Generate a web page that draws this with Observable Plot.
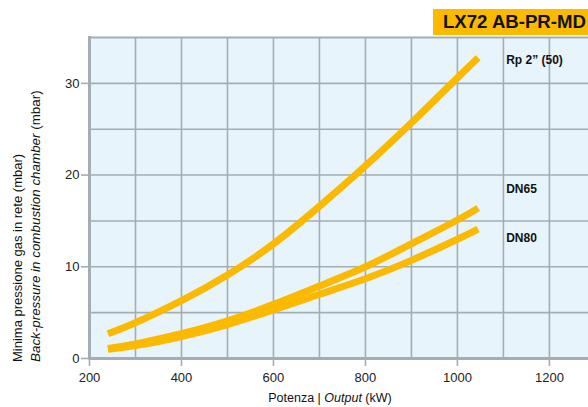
<!DOCTYPE html>
<html>
<head>
<meta charset="utf-8">
<script src="https://cdn.jsdelivr.net/npm/d3@7"></script>
<script src="https://cdn.jsdelivr.net/npm/@observablehq/plot@0.6"></script>
<style>
  html, body { margin: 0; padding: 0; background: #fff; }
  #wrap { position: relative; width: 588px; height: 407px; font-family: "Liberation Sans", Arial, sans-serif; }
  #title { position: absolute; left: 433px; top: 9px; width: 155px; height: 26px; background: #fbb900;
           font: bold 18.6px "Liberation Sans", Arial, sans-serif; color: #111; line-height: 26px; padding-left: 10px; box-sizing: border-box; white-space: nowrap; }
</style>
</head>
<body>
<div id="wrap"><div id="title">LX72 AB-PR-MD</div></div>
<script>
// Output (kW)
const output = [240, 300, 400, 500, 600, 700, 800, 900, 1000, 1045];
// Minimum gas pressure (mbar) per connection
const rp2 = [2.7, 3.9, 6.3, 9.1, 12.5, 16.6, 21.0, 25.7, 30.6, 32.8];
const dn65 = [1.1, 1.6, 2.7, 4.1, 5.9, 7.9, 10.0, 12.5, 15.1, 16.4];
const dn80 = [1.0, 1.4, 2.4, 3.7, 5.3, 7.0, 8.7, 10.7, 13.0, 14.1];
const seriesNames = ["Rp 2\u201D (50)", "DN65", "DN80"];
const labelPos = [[1106, 32.55], [1106, 18.5], [1106, 13.15]];
const xTicks = [200, 400, 600, 800, 1000, 1200];
const yTicks = [0, 10, 20, 30];
const xGrid = [300, 400, 500, 600, 700, 800, 900, 1000, 1100, 1200];
const yGrid = [5, 10, 15, 20, 25, 30];

const seriesValues = [rp2, dn65, dn80];
const rows = seriesValues.flatMap((vals, i) => output.map((x, j) => ({series: seriesNames[i], x, y: vals[j]})));
const labels = seriesNames.map((name, i) => ({name, x: labelPos[i][0], y: labelPos[i][1]}));

const gridColor = "#a3adb5";
const orange = "#fbb900";

const chart = Plot.plot({
  width: 588,
  height: 407,
  marginLeft: 89,
  marginRight: 0,
  marginTop: 37,
  marginBottom: 49,
  style: {fontFamily: "Liberation Sans, Arial, sans-serif", fontSize: "13px", background: "transparent"},
  x: {domain: [200, 1285]},
  y: {domain: [0, 35]},
  marks: [
    Plot.frame({fill: "#e8f4fc", stroke: "none"}),
    Plot.ruleX(xGrid, {stroke: gridColor, strokeWidth: 1.6}),
    Plot.ruleY(yGrid, {stroke: gridColor, strokeWidth: 1.6}),
    Plot.ruleY([35], {stroke: gridColor, strokeWidth: 2}),
    Plot.ruleY([0], {stroke: gridColor, strokeWidth: 3}),
    Plot.ruleX([200], {stroke: gridColor, strokeWidth: 3, y1: -0.15, y2: 35.1}),
    Plot.line(rows, {x: "x", y: "y", z: "series", curve: "natural", stroke: orange, strokeWidth: 7, strokeLinecap: "butt"}),
    Plot.text(labels, {x: "x", y: "y", text: "name", textAnchor: "start", fontWeight: "bold", fontSize: 12, fill: "#111"}),
    Plot.axisX({ticks: xTicks, tickFormat: d => String(d), tickSize: 8, tickPadding: 6, stroke: gridColor, strokeWidth: 1.6, fill: "#222", label: null, fontSize: 13}),
    Plot.axisY({ticks: yTicks, tickFormat: d => String(d), tickSize: 8, tickPadding: 2, stroke: gridColor, strokeWidth: 1.6, fill: "#222", label: null, fontSize: 13})
  ]
});

const svg = d3.select(chart);
// Y axis title (two lines)
svg.append("text")
  .attr("transform", "translate(22,362) rotate(-90)")
  .attr("font-size", 13).attr("fill", "#111").attr("text-anchor", "start")
  .text("Minima pressione gas in rete (mbar)");
const yt2 = svg.append("text")
  .attr("transform", "translate(40,362) rotate(-90)")
  .attr("font-size", 13.4).attr("fill", "#111").attr("text-anchor", "start");
yt2.append("tspan").attr("font-style", "italic").text("Back-pressure in combustion chamber");
yt2.append("tspan").text(" (mbar)");
// X axis title
const xt = svg.append("text")
  .attr("x", 330).attr("y", 402)
  .attr("font-size", 12.5).attr("fill", "#111").attr("text-anchor", "middle");
xt.append("tspan").text("Potenza | ");
xt.append("tspan").attr("font-style", "italic").text("Output");
xt.append("tspan").text(" (kW)");

chart.style.position = "absolute";
chart.style.left = "0";
chart.style.top = "0";
const wrap = document.getElementById("wrap");
wrap.insertBefore(chart, wrap.firstChild);
</script>
</body>
</html>
